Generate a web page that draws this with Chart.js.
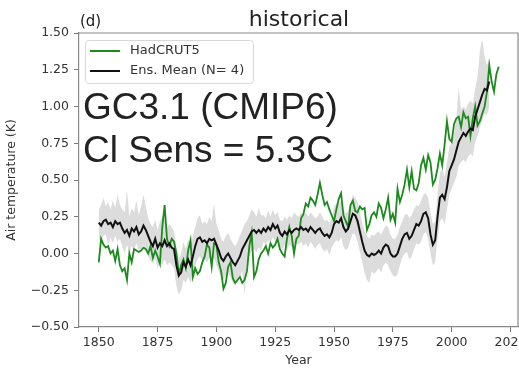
<!DOCTYPE html>
<html>
<head>
<meta charset="utf-8">
<script src="https://cdn.jsdelivr.net/npm/chart.js@4.4.1/dist/chart.umd.min.js"></script>
<style>
  html, body { margin: 0; padding: 0; overflow: hidden; background: #fff; }
  #wrap { width: 540px; height: 368px; }
</style>
</head>
<body>
<div id="wrap"><canvas id="tempChart" width="540" height="368"></canvas></div>
<script>
// observed record, 1850-2020
const obsStart = 1850;
const hadcrut = [
  -0.06, 0.10, 0.06, 0.04, 0.05, 0.00, 0.02, -0.05, 0.03, -0.08,
  -0.12, -0.10, -0.18, 0.00, -0.06, 0.03, 0.02, 0.01, 0.02, 0.04,
  0.03, 0.00, 0.05, -0.03, 0.02, -0.02, -0.07, 0.18, 0.33, 0.10,
  0.05, 0.10, 0.08, 0.00, -0.14, -0.08, -0.04, -0.10, 0.02, 0.09,
  -0.16, -0.10, -0.14, -0.12, -0.06, -0.02, 0.06, 0.04, -0.09, 0.07,
  0.06, -0.06, -0.12, -0.24, -0.20, -0.09, -0.06, -0.17, -0.20, -0.18,
  -0.16, -0.20, -0.18, -0.12, 0.05, 0.14, -0.16, -0.12, -0.04, 0.00,
  0.02, 0.05, 0.00, 0.07, 0.04, 0.06, 0.10, 0.03, 0.00, -0.02,
  0.10, 0.18, 0.12, 0.00, 0.10, 0.12, 0.24, 0.27, 0.34, 0.32,
  0.38, 0.36, 0.33, 0.40, 0.48, 0.40, 0.33, 0.35, 0.30, 0.26,
  0.22, 0.30, 0.37, 0.41, 0.26, 0.22, 0.18, 0.33, 0.36, 0.29,
  0.28, 0.32, 0.30, 0.31, 0.16, 0.20, 0.26, 0.28, 0.25, 0.34,
  0.31, 0.24, 0.30, 0.38, 0.23, 0.27, 0.21, 0.44, 0.35, 0.40,
  0.47, 0.57, 0.45, 0.56, 0.44, 0.43, 0.48, 0.60, 0.65, 0.57,
  0.67, 0.62, 0.47, 0.50, 0.58, 0.68, 0.60, 0.74, 0.90, 0.78,
  0.76, 0.88, 0.92, 0.93, 0.86, 0.96, 0.92, 0.93, 0.80, 0.92,
  1.00, 0.87, 0.90, 0.95, 1.00, 1.10, 1.28, 1.17, 1.10, 1.22,
  1.27
];

// model ensemble (4 members), 1850-2016
const ensStart = 1850;
const ensMean = [
  0.21, 0.19, 0.22, 0.23, 0.20, 0.21, 0.18, 0.22, 0.20, 0.21,
  0.17, 0.14, 0.16, 0.12, 0.17, 0.15, 0.18, 0.13, 0.15, 0.19,
  0.16, 0.12, 0.08, 0.05, 0.10, 0.04, 0.07, 0.05, 0.09, 0.05,
  0.07, 0.04, 0.03, -0.08, -0.15, -0.13, -0.06, -0.09, -0.04, -0.08,
  -0.02, 0.05, 0.10, 0.11, 0.08, 0.09, 0.07, 0.10, 0.09, 0.10,
  0.06, 0.02, -0.03, -0.05, -0.02, 0.00, -0.03, -0.06, -0.08, -0.05,
  -0.02, 0.03, 0.06, 0.09, 0.12, 0.15, 0.16, 0.14, 0.16, 0.14,
  0.17, 0.15, 0.18, 0.16, 0.20, 0.17, 0.19, 0.14, 0.12, 0.15,
  0.13, 0.16, 0.14, 0.16, 0.17, 0.16, 0.18, 0.16, 0.17, 0.15,
  0.18, 0.16, 0.14, 0.16, 0.17, 0.14, 0.12, 0.13, 0.11, 0.14,
  0.20, 0.22, 0.21, 0.24, 0.18, 0.15, 0.17, 0.22, 0.27, 0.26,
  0.22, 0.15, 0.08, 0.02, -0.01, -0.02, 0.00, -0.01, 0.00, 0.02,
  0.00, 0.04, 0.06, 0.05, 0.00, -0.02, -0.02, 0.00, 0.05, 0.10,
  0.13, 0.14, 0.10, 0.12, 0.16, 0.20, 0.19, 0.22, 0.27, 0.28,
  0.24, 0.13, 0.06, 0.09, 0.25, 0.38, 0.40, 0.37, 0.45, 0.56,
  0.60, 0.64, 0.70, 0.76, 0.79, 0.82, 0.80, 0.83, 0.85, 0.84,
  0.93, 0.98, 1.03, 1.08, 1.12, 1.11, 1.17
];
const ensHigh = [
  0.30, 0.33, 0.38, 0.32, 0.35, 0.30, 0.36, 0.31, 0.40, 0.33,
  0.30, 0.28, 0.43, 0.25, 0.31, 0.28, 0.36, 0.26, 0.32, 0.40,
  0.32, 0.24, 0.20, 0.18, 0.23, 0.16, 0.22, 0.25, 0.28, 0.18,
  0.20, 0.18, 0.15, 0.04, -0.04, 0.00, 0.08, 0.03, 0.10, 0.04,
  0.12, 0.18, 0.24, 0.26, 0.20, 0.22, 0.20, 0.25, 0.22, 0.34,
  0.20, 0.16, 0.10, 0.08, 0.12, 0.14, 0.10, 0.07, 0.05, 0.08,
  0.12, 0.16, 0.20, 0.22, 0.26, 0.30, 0.28, 0.25, 0.31, 0.26,
  0.26, 0.24, 0.29, 0.25, 0.30, 0.26, 0.28, 0.23, 0.22, 0.25,
  0.23, 0.26, 0.24, 0.28, 0.26, 0.25, 0.28, 0.26, 0.28, 0.25,
  0.28, 0.26, 0.24, 0.25, 0.28, 0.25, 0.22, 0.23, 0.21, 0.24,
  0.32, 0.34, 0.33, 0.36, 0.30, 0.27, 0.29, 0.34, 0.40, 0.38,
  0.35, 0.28, 0.20, 0.15, 0.12, 0.10, 0.13, 0.12, 0.14, 0.15,
  0.13, 0.16, 0.19, 0.18, 0.13, 0.10, 0.10, 0.13, 0.18, 0.22,
  0.26, 0.27, 0.24, 0.26, 0.30, 0.33, 0.32, 0.36, 0.40, 0.41,
  0.38, 0.28, 0.20, 0.22, 0.40, 0.55, 0.58, 0.52, 0.62, 0.72,
  0.76, 0.82, 0.92, 1.13, 0.98, 1.00, 0.98, 1.02, 1.04, 1.02,
  1.12, 1.20, 1.38, 1.46, 1.34, 1.28, 1.32
];
const ensLow = [
  0.10, 0.08, 0.12, 0.13, 0.06, 0.11, 0.07, 0.12, 0.08, 0.10,
  0.05, 0.00, 0.06, 0.01, 0.05, 0.03, 0.07, 0.02, 0.03, 0.06,
  0.02, -0.02, -0.05, -0.07, -0.03, -0.10, -0.06, -0.08, -0.04, -0.08,
  -0.06, -0.08, -0.10, -0.22, -0.28, -0.25, -0.18, -0.20, -0.16, -0.20,
  -0.15, -0.08, -0.04, -0.02, -0.05, -0.04, -0.06, -0.03, -0.05, -0.03,
  -0.08, -0.12, -0.16, -0.18, -0.15, -0.13, -0.16, -0.20, -0.22, -0.18,
  -0.16, -0.12, -0.28, -0.06, -0.02, 0.02, 0.03, 0.01, 0.04, 0.02,
  0.08, 0.06, 0.09, 0.07, 0.11, 0.08, 0.10, 0.05, 0.02, 0.06,
  0.03, 0.06, 0.04, 0.05, 0.07, 0.06, 0.08, 0.05, 0.07, 0.04,
  0.08, 0.06, 0.03, 0.06, 0.07, 0.03, 0.01, 0.03, -0.01, 0.04,
  0.07, 0.09, 0.08, 0.11, 0.05, 0.02, 0.04, 0.09, 0.14, 0.13,
  0.08, 0.01, -0.06, -0.13, -0.18, -0.20, -0.12, -0.14, -0.12, -0.10,
  -0.13, -0.08, -0.06, -0.08, -0.12, -0.15, -0.16, -0.14, -0.08, -0.03,
  0.00, 0.01, -0.04, -0.02, 0.03, 0.07, 0.06, 0.08, 0.13, 0.15,
  0.10, 0.00, -0.08, -0.06, 0.10, 0.22, 0.24, 0.20, 0.30, 0.40,
  0.44, 0.48, 0.52, 0.60, 0.62, 0.64, 0.62, 0.66, 0.68, 0.66,
  0.76, 0.80, 0.86, 0.90, 0.95, 0.94, 1.00
];

const yTicks = [-0.5, -0.25, 0, 0.25, 0.5, 0.75, 1.0, 1.25, 1.5];
const xTicks = [1850, 1875, 1900, 1925, 1950, 1975, 2000, 2025];

// turn a series into {x, y} points
function toPoints(start, values) {
  return values.map((v, i) => ({ x: start + i, y: v }));
}

Chart.defaults.font.family = "'DejaVu Sans', sans-serif";
Chart.defaults.color = "#333";

// legend, panel letter, title, frame and the big labels
const decorations = {
  id: "decorations",
  afterDraw(chart) {
    const ctx = chart.ctx;
    const area = chart.chartArea;
    ctx.save();

    // top and right spines
    ctx.strokeStyle = "#888";
    ctx.lineWidth = 1.2;
    ctx.beginPath();
    ctx.moveTo(area.left, area.top);
    ctx.lineTo(area.right, area.top);
    ctx.lineTo(area.right, area.bottom);
    ctx.stroke();

    // title and panel letter
    ctx.fillStyle = "#222";
    ctx.textBaseline = "alphabetic";
    ctx.font = "22px 'DejaVu Sans'";
    ctx.textAlign = "center";
    ctx.fillText("historical", 299, 26);
    ctx.font = "15px 'DejaVu Sans'";
    ctx.textAlign = "left";
    ctx.fillText("(d)", 80, 26);

    // legend box
    ctx.fillStyle = "rgba(255,255,255,0.8)";
    ctx.strokeStyle = "#d8d8d8";
    ctx.lineWidth = 1;
    ctx.beginPath();
    ctx.roundRect(85.5, 40.5, 168, 43, 3);
    ctx.fill();
    ctx.stroke();

    const entries = [
      { label: "HadCRUT5", color: "#1d8a1d", y: 51 },
      { label: "Ens. Mean (N= 4)", color: "#111", y: 71 }
    ];
    ctx.font = "13px 'DejaVu Sans'";
    ctx.textBaseline = "middle";
    entries.forEach(e => {
      ctx.strokeStyle = e.color;
      ctx.lineWidth = 2;
      ctx.beginPath();
      ctx.moveTo(90, e.y);
      ctx.lineTo(120, e.y);
      ctx.stroke();
      ctx.fillStyle = "#333";
      ctx.fillText(e.label, 130, e.y);
    });

    // model description
    ctx.fillStyle = "#222";
    ctx.textBaseline = "alphabetic";
    ctx.font = "37px 'Liberation Sans', Arial, sans-serif";
    ctx.fillText("GC3.1 (CMIP6)", 83, 119);
    ctx.fillText("Cl Sens = 5.3C", 83, 162);

    ctx.restore();
  }
};

const ctx = document.getElementById("tempChart");

new Chart(ctx, {
  type: "line",
  data: {
    datasets: [
      {
        label: "Ens. Mean (N= 4)",
        data: toPoints(ensStart, ensMean),
        borderColor: "#111",
        borderWidth: 2,
        pointRadius: 0,
        tension: 0,
        fill: false
      },
      {
        label: "HadCRUT5",
        data: toPoints(obsStart, hadcrut),
        borderColor: "#1d8a1d",
        borderWidth: 1.8,
        pointRadius: 0,
        tension: 0,
        fill: false
      },
      {
        label: "max",
        data: toPoints(ensStart, ensHigh),
        borderWidth: 0,
        borderColor: "rgba(0,0,0,0)",
        backgroundColor: "rgba(205,205,205,0.7)",
        pointRadius: 0,
        fill: "+1"
      },
      {
        label: "min",
        data: toPoints(ensStart, ensLow),
        borderWidth: 0,
        borderColor: "rgba(0,0,0,0)",
        pointRadius: 0,
        fill: false
      }
    ]
  },
  options: {
    responsive: false,
    animation: false,
    devicePixelRatio: 1,
    layout: { padding: { top: 33, right: 22, bottom: 0, left: 0 } },
    plugins: {
      legend: { display: false },
      tooltip: { enabled: false }
    },
    scales: {
      x: {
        type: "linear",
        min: 1841.6,
        max: 2028.2,
        afterFit(scale) { scale.height = 41; },
        afterBuildTicks(scale) { scale.ticks = xTicks.map(v => ({ value: v })); },
        ticks: {
          font: { size: 12.5 },
          color: "#333",
          padding: 3,
          maxRotation: 0,
          callback: v => String(v)
        },
        grid: { drawOnChartArea: false, drawTicks: true, tickLength: 5, tickColor: "#777" },
        border: { color: "#888", width: 1.2 },
        title: { display: true, text: "Year", font: { size: 12.5 }, color: "#333", padding: 0 }
      },
      y: {
        min: -0.5,
        max: 1.5,
        afterFit(scale) { scale.width = 79; },
        afterBuildTicks(scale) { scale.ticks = yTicks.map(v => ({ value: v })); },
        ticks: {
          font: { size: 12.5 },
          color: "#333",
          padding: 5,
          callback: v => (v < 0 ? "\u2212" : "") + Math.abs(v).toFixed(2)
        },
        grid: { drawOnChartArea: false, drawTicks: true, tickLength: 5, tickColor: "#777" },
        border: { color: "#888", width: 1.2 },
        title: {
          display: true,
          text: "Air temperature (K)",
          font: { size: 12.5 },
          color: "#333",
          padding: { top: 4, bottom: 0 }
        }
      }
    }
  },
  plugins: [decorations]
});
</script>
</body>
</html>
